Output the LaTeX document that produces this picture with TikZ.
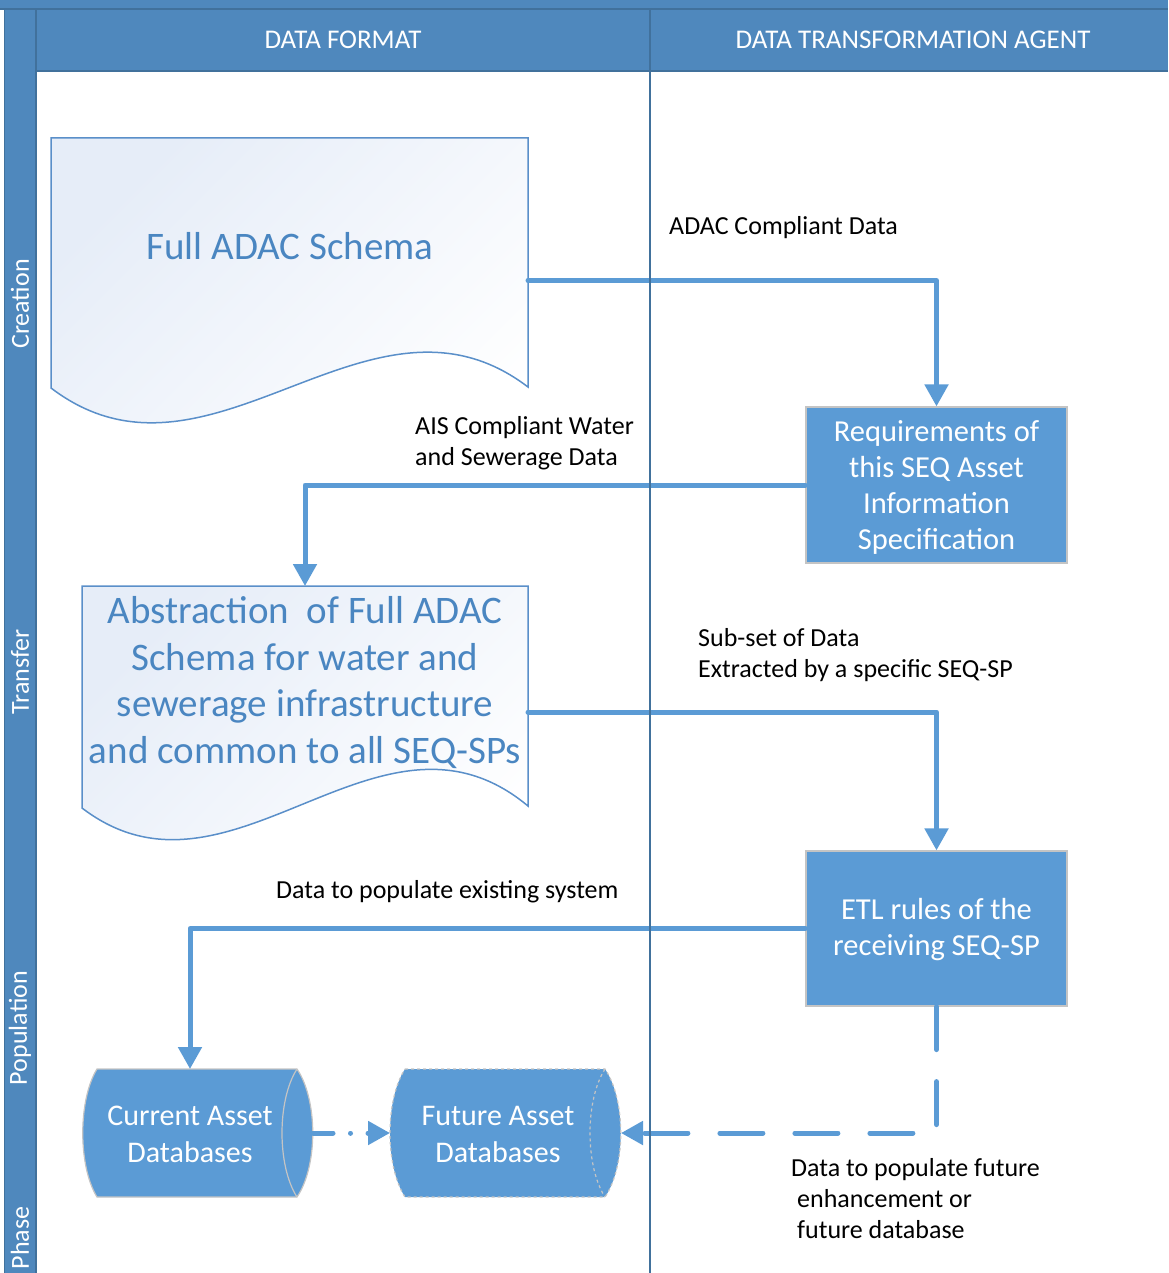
\documentclass[tikz,border=0pt]{standalone}
\usepackage{fontspec}
\setmainfont{Carlito}
\usetikzlibrary{arrows.meta}

\definecolor{lanehead}{HTML}{4F88BD}
\definecolor{laneline}{HTML}{41719C}
\definecolor{shapeblue}{HTML}{5B9BD5}
\definecolor{doctext}{HTML}{4A86C1}
\definecolor{docedge}{HTML}{5A8FC9}
\definecolor{docfill}{HTML}{E6EDF8}
\definecolor{boxedge}{HTML}{C4C4C4}

\begin{document}
\begin{tikzpicture}[x=1pt,y=-1pt,
  conn/.style={draw=shapeblue, line width=5pt, line cap=round, line join=round,
    -{Triangle[length=22pt,width=23pt]}},
  docshape/.style={draw=docedge, line width=1.5pt, top color=docfill, bottom color=white, shading angle=45},
  dbshape/.style={fill=shapeblue, draw=boxedge, line width=1.2pt},
  frame/.style={inner sep=0pt, outer sep=0pt},
  procbox/.style={fill=shapeblue, draw=boxedge, line width=1.2pt, text=white, align=center,
    inner sep=0pt, font=\fontsize{30.5}{36}\selectfont},
  doctxt/.style={text=doctext, align=center, inner sep=0pt, font=\fontsize{39}{46.5}\selectfont},
  dbtxt/.style={text=white, align=center, inner sep=0pt, font=\fontsize{30}{37}\selectfont},
  lbl/.style={text=black, align=left, inner sep=0pt, anchor=west, font=\fontsize{26}{31}\selectfont},
  headtxt/.style={text=white, inner sep=0pt, font=\fontsize{27}{30}\selectfont},
  phasetxt/.style={text=white, inner sep=0pt, rotate=90, font=\fontsize{26}{30}\selectfont}
]
\useasboundingbox (0,0) rectangle (1168,1273);

% swimlane frame
\fill[lanehead] (0,0) rectangle (1168,9);
\fill[lanehead] (36,9) rectangle (1168,71);
\fill[lanehead] (4,9) rectangle (36,1273);
\draw[laneline, line width=1.2pt] (0,9) -- (1168,9);
\draw[laneline, line width=1.2pt] (36,71) -- (1168,71);
\draw[laneline, line width=1.2pt] (4.5,9) -- (4.5,1273);
\draw[laneline, line width=1.2pt] (36,9) -- (36,1273);

% document shapes
\shade[docshape] (51,138) -- (528,138) -- (528,387)
  .. controls (369,266) and (210,509) .. (51,388) -- cycle;
\node[frame, minimum width=477pt, minimum height=285pt] (docA) at (289.5,280.5) {};
\node[doctxt] (docAtext) at (290,246) {Full ADAC Schema};

\shade[docshape] (82,586) -- (528,586) -- (528,806)
  .. controls (379,682) and (231,922) .. (82,808) -- cycle;
\node[frame, minimum width=446pt, minimum height=252pt] (docB) at (305,712) {};
\node[doctxt] (docBtext) at (305,682.5) {Abstraction\ \ of Full ADAC\\Schema for water and\\sewerage infrastructure\\and common to all SEQ-SPs};

% process boxes
\node[procbox, minimum width=261pt, minimum height=156pt] (req) at (936.5,485) {};
\node[procbox, draw=none, fill=none] (reqtext) at (936.5,487)
  {Requirements of\\this SEQ Asset\\Information\\Specification};
\node[procbox, minimum width=261pt, minimum height=155pt] (etl) at (936.5,928.5) {};
\node[procbox, draw=none, fill=none] (etltext) at (936.5,930)
  {ETL rules of the\\receiving SEQ-SP};

% database cylinders
\path[dbshape] (97,1069) -- (297,1069) .. controls (318,1100) and (318,1166) .. (297,1197)
  -- (97,1197) .. controls (78,1166) and (78,1100) .. (97,1069) -- cycle;
\draw[boxedge, line width=1.2pt] (297,1069) .. controls (277,1100) and (277,1166) .. (297,1197);
\node[frame, minimum width=231pt, minimum height=128pt] (cur) at (197.5,1133) {};
\node[dbtxt] (curtext) at (190,1134) {Current Asset\\Databases};

\path[dbshape, dashed] (405,1069) -- (605,1069) .. controls (626,1100) and (626,1166) .. (605,1197)
  -- (405,1197) .. controls (385,1166) and (385,1100) .. (405,1069) -- cycle;
\draw[boxedge, line width=1.2pt, dashed] (605,1069) .. controls (585,1100) and (585,1166) .. (605,1197);
\node[frame, minimum width=231pt, minimum height=128pt] (fut) at (505.5,1133) {};
\node[dbtxt] (futtext) at (498,1134) {Future Asset\\Databases};

% connectors
\draw[conn] (docA.east) -| (req.north);
\draw[conn] (req.west) -| (docB.north);
\draw[conn] (docB.east) -| (etl.north);
\draw[conn] (etl.west) -| ([xshift=-7.5pt]cur.north);
\draw[conn, dash pattern=on 43pt off 32pt] (etl.south) |- (fut.east);
\draw[conn, dash pattern=on 20pt off 17.5pt on 0.01pt off 17.5pt] (cur.east) -- (fut.west);

% lane divider
\draw[laneline, line width=1.5pt] (650,9) -- (650,1273);

% lane headings
\node[headtxt] (fmt) at (343,40) {DATA FORMAT};
\node[headtxt] (agent) at (913,40) {DATA TRANSFORMATION AGENT};
\node[phasetxt] (creation) at (20,304) {Creation};
\node[phasetxt] (transfer) at (20,672) {Transfer};
\node[phasetxt] (population) at (20,1028) {Population};
\node[phasetxt] (phase) at (20,1238) {Phase};

% connector labels
\node[lbl] (l1) at (669,228) {ADAC Compliant Data};
\node[lbl] (l2) at (415,443.5) {AIS Compliant Water\\and Sewerage Data};
\node[lbl] (l3) at (698,655.5) {Sub-set of Data\\Extracted by a specific SEQ-SP};
\node[lbl] (l4) at (276,892) {Data to populate existing system};
\node[lbl] (l5) at (791,1199) {Data to populate future\\\hspace*{6pt}enhancement or\\\hspace*{6pt}future database};
\end{tikzpicture}
\end{document}
